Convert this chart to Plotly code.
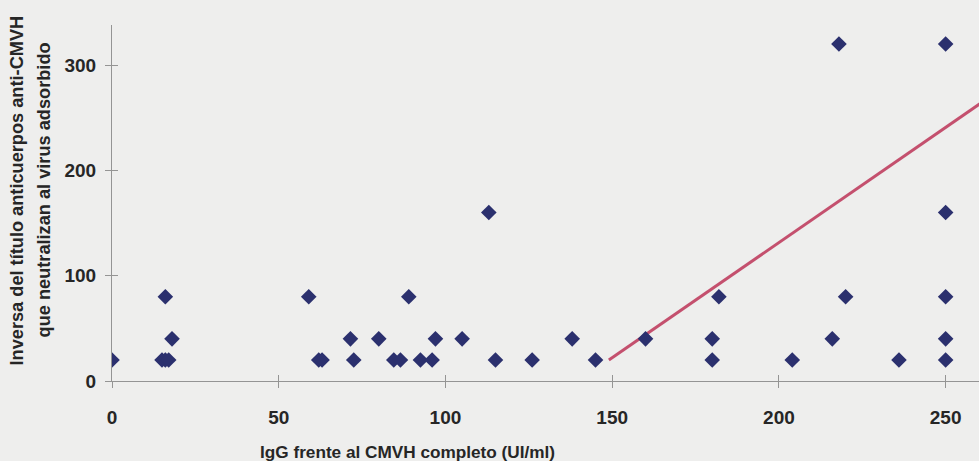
import plotly.graph_objects as go

# Data
igg_x = [0, 15, 16, 17, 16, 18, 59, 62, 63, 71.5, 72.5, 80, 84.5, 86.5, 89, 92.5, 96, 97,
         105, 113, 115, 126, 138, 145, 160, 180, 180, 182, 204, 216, 218, 220, 236,
         250, 250, 250, 250, 250]
titer_y = [20, 20, 20, 20, 80, 40, 80, 20, 20, 40, 20, 40, 20, 20, 80, 20, 20, 40,
           40, 160, 20, 20, 40, 20, 40, 20, 40, 80, 20, 40, 320, 80, 20,
           20, 40, 80, 160, 320]
trend_x = [149, 262]
trend_y = [20, 267]

x_ticks = [0, 50, 100, 150, 200, 250]
y_ticks = [0, 100, 200, 300]

x_title = "IgG frente al CMVH completo (UI/ml)"
y_title_1 = "Inversa del título anticuerpos anti-CMVH"
y_title_2 = "que neutralizan al virus adsorbido"

BG = "#eeeeed"
AXC = "#949494"
TXT = "#262626"
FONT = "Liberation Sans, Arial, sans-serif"

fig = go.Figure()
fig.add_trace(go.Scatter(x=trend_x, y=trend_y, mode="lines",
                         line=dict(color="#c4506e", width=3), hoverinfo="skip",
                         showlegend=False))
fig.add_trace(go.Scatter(x=igg_x, y=titer_y, mode="markers",
                         marker=dict(symbol="diamond", size=12, color="#2b306e"),
                         showlegend=False))

tickfont = dict(family=FONT, size=19, color=TXT, weight="bold")
fig.update_layout(
    width=979, height=461,
    margin=dict(l=112, r=0, t=25, b=80),
    paper_bgcolor=BG, plot_bgcolor=BG,
    font=dict(family=FONT),
    xaxis=dict(range=[0, 260], tickvals=x_ticks, showgrid=False, zeroline=False,
               showline=True, linecolor=AXC, linewidth=1,
               ticks="outside", ticklen=6, tickcolor=AXC,
               tickfont=tickfont, ticklabelstandoff=13),
    yaxis=dict(range=[0, 338], tickvals=y_ticks, showgrid=False, zeroline=False,
               showline=True, linecolor=AXC, linewidth=1,
               ticks="outside", ticklen=6, tickcolor=AXC,
               tickfont=tickfont, ticklabelstandoff=5),
    xaxis2=dict(overlaying="x", range=[0, 260], tickvals=x_ticks, showticklabels=False,
                showgrid=False, zeroline=False, ticks="inside", ticklen=6,
                tickcolor=AXC, anchor="y", side="bottom"),
    yaxis2=dict(overlaying="y", range=[0, 338], tickvals=y_ticks, showticklabels=False,
                showgrid=False, zeroline=False, ticks="inside", ticklen=6,
                tickcolor=AXC, anchor="x", side="left"),
)
# dummy trace to activate the overlay axes (inner half of crossing ticks)
fig.add_trace(go.Scatter(x=[None], y=[None], xaxis="x2", yaxis="y2", showlegend=False))

fig.add_annotation(text="<b>" + x_title + "</b>",
                   xref="paper", yref="paper", x=(407 - 112) / 867, y=-(451 - 380) / 355,
                   xanchor="center", yanchor="middle", showarrow=False,
                   font=dict(family=FONT, size=17.2, color=TXT))
for txt, px in [(y_title_1, 17), (y_title_2, 44)]:
    fig.add_annotation(text="<b>" + txt + "</b>",
                       xref="paper", yref="paper", x=(px - 112) / 867, y=(380 - 190) / 355,
                       xanchor="center", yanchor="middle", showarrow=False, textangle=-90,
                       font=dict(family=FONT, size=18.2, color=TXT))

fig.write_html("out.html")
